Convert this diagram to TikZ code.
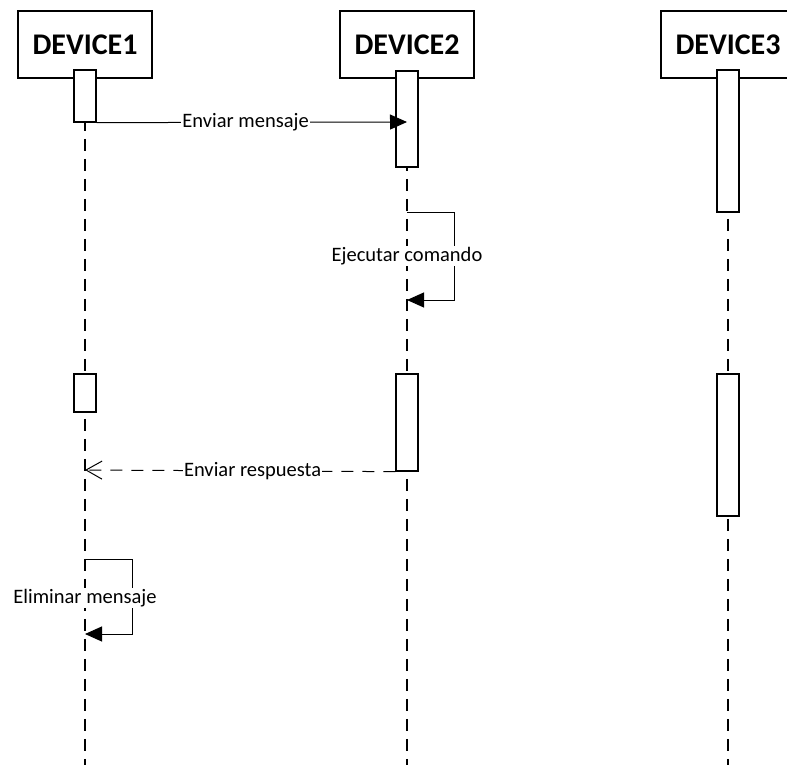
\documentclass[tikz,border=0pt]{standalone}
\usepackage{fontspec}
\setmainfont{Carlito}
\usetikzlibrary{arrows.meta}

\begin{document}
\begin{tikzpicture}[x=1pt,y=-1pt,line width=1pt]
    \tikzstyle{device}=[draw,line width=1.8pt,minimum width=134pt,minimum height=67pt,inner sep=0pt,font=\fontsize{30}{36}\selectfont\bfseries]
    \tikzstyle{activation}=[draw,fill=white,line width=1.3pt,minimum width=22pt,inner sep=0pt]
    \tikzstyle{lifeline}=[line width=1.2pt,dash pattern=on 12pt off 8pt]
    \tikzstyle{call}=[line width=1pt,-{Triangle[length=17pt,width=15pt]}]
    \tikzstyle{reply}=[line width=1pt,dash pattern=on 12pt off 9pt,-{Straight Barb[length=16pt,width=18pt]}]
    \tikzstyle{msg}=[fill=white,inner sep=1pt,font=\fontsize{20.5}{24}\selectfont]

    \useasboundingbox (0,0) rectangle (787,765);

    % Draw the device headers
    \node[device] (D1) at (85,44.5) {DEVICE1};
    \node[device] (D2) at (407,44.5) {DEVICE2};
    \node[device] (D3) at (728,44.5) {DEVICE3};

    % Lifelines down to the bottom
    \coordinate (E1) at (85,765);
    \coordinate (E2) at (407,765);
    \coordinate (E3) at (728,765);
    \draw[lifeline] (D1.south) -- (E1);
    \draw[lifeline] (D2.south) -- (E2);
    \draw[lifeline] (D3.south) -- (E3);

    % Activation bars
    \node[activation,minimum height=52pt] (A1-1) at (85,96) {};
    \node[activation,minimum height=96pt] (A2-1) at (407,119) {};
    \node[activation,minimum height=142pt] (A3-1) at (728,141) {};
    \node[activation,minimum height=38pt] (A1-2) at (85,393) {};
    \node[activation,minimum height=97pt] (A2-2) at (407,422.5) {};
    \node[activation,minimum height=142pt] (A3-2) at (728,445) {};

    % Enviar mensaje
    \coordinate (M1) at (407,122);
    \draw[call] (A1-1.south east) -- node[msg,pos=0.48] (T1) {Enviar mensaje} (M1);

    % Ejecutar comando (self call)
    \coordinate (S1a) at (407,212);
    \coordinate (S1b) at (454,212);
    \coordinate (S1c) at (454,300);
    \coordinate (S1d) at (407,300);
    \draw[call] (S1a) -- (S1b) -- (S1c) -- (S1d);
    \node[msg] (T2) at (407,256) {Ejecutar comando};

    % Enviar respuesta
    \coordinate (R1) at (85,470);
    \draw[reply] (A2-2.south west) -- node[msg,pos=0.46] (T3) {Enviar respuesta} (R1);

    % Eliminar mensaje (self call)
    \coordinate (S2a) at (85,559);
    \coordinate (S2b) at (132,559);
    \coordinate (S2c) at (132,634);
    \coordinate (S2d) at (85,634);
    \draw[call] (S2a) -- (S2b) -- (S2c) -- (S2d);
    \node[msg] (T4) at (85,598) {Eliminar mensaje};
\end{tikzpicture}
\end{document}
